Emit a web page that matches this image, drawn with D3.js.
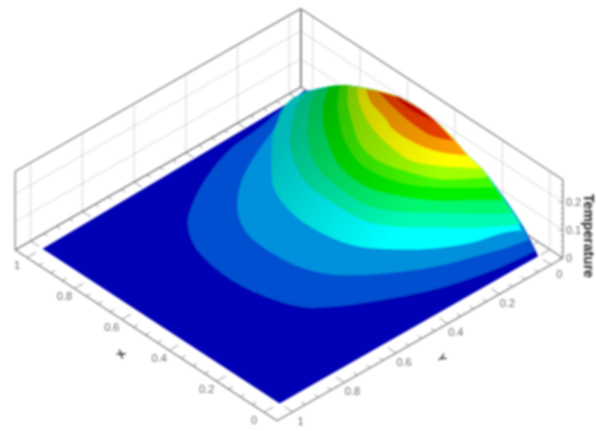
<!DOCTYPE html>
<html>
<head>
<meta charset="utf-8">
<script src="https://d3js.org/d3.v7.min.js"></script>
<style>
html, body { margin: 0; padding: 0; background: #fff; }
svg { display: block; }
text { font-family: "Liberation Sans", Arial, sans-serif; }
</style>
</head>
<body>
<script>
// temperature along the y = 0 edge (this edge is also the outline of the dome)
const edgeX = [0, 0.064, 0.233, 0.297, 0.353, 0.428, 0.497, 0.585, 0.682, 0.767, 0.827, 0.894, 0.966, 0.99, 1];
const edgeT = [0, 0.071, 0.179, 0.196, 0.22, 0.242, 0.25, 0.244, 0.215, 0.182, 0.154, 0.11, 0.057, 0.043, 0.022];

// contour levels and the iso-lines
const levels = [0.018, 0.036, 0.054, 0.072, 0.093, 0.12, 0.146, 0.164, 0.179, 0.193, 0.214, 0.24];
const contourX = [
  [0.007, 0.023, 0.063, 0.124, 0.217, 0.27, 0.366, 0.482, 0.605, 0.706, 0.786, 0.844, 0.906, 0.955, 0.971, 0.987, 1],
  [0.041, 0.06, 0.091, 0.122, 0.183, 0.296, 0.387, 0.507, 0.618, 0.704, 0.766, 0.816, 0.874, 0.925, 0.961, 0.988],
  [0.069, 0.097, 0.127, 0.191, 0.27, 0.331, 0.399, 0.528, 0.633, 0.715, 0.814, 0.881, 0.926, 0.964, 0.976],
  [0.074, 0.143, 0.221, 0.303, 0.386, 0.517, 0.635, 0.727, 0.817, 0.881, 0.93, 0.953],
  [0.107, 0.17, 0.252, 0.334, 0.423, 0.566, 0.653, 0.734, 0.82, 0.884, 0.918],
  [0.142, 0.21, 0.267, 0.362, 0.458, 0.564, 0.636, 0.702, 0.762, 0.831, 0.882],
  [0.183, 0.29, 0.386, 0.5, 0.57, 0.639, 0.704, 0.777, 0.836],
  [0.214, 0.301, 0.405, 0.488, 0.568, 0.661, 0.74, 0.802],
  [0.244, 0.332, 0.411, 0.475, 0.56, 0.634, 0.703, 0.765],
  [0.298, 0.366, 0.453, 0.545, 0.591, 0.665, 0.728],
  [0.357, 0.423, 0.507, 0.593, 0.678],
  [0.431, 0.495, 0.563, 0.602]
];
const contourY = [
  [0.007, 0.153, 0.31, 0.448, 0.606, 0.663, 0.703, 0.723, 0.716, 0.687, 0.634, 0.561, 0.45, 0.317, 0.197, 0.113, 0.055],
  [0, 0.082, 0.17, 0.257, 0.368, 0.507, 0.556, 0.572, 0.56, 0.516, 0.458, 0.394, 0.286, 0.171, 0.099, 0.047],
  [0, 0.047, 0.147, 0.255, 0.338, 0.386, 0.412, 0.425, 0.407, 0.37, 0.284, 0.218, 0.157, 0.095, 0.053],
  [0, 0.094, 0.177, 0.257, 0.309, 0.319, 0.313, 0.275, 0.212, 0.144, 0.08, 0.029],
  [0, 0.069, 0.149, 0.228, 0.275, 0.275, 0.257, 0.214, 0.142, 0.072, 0.014],
  [0, 0.071, 0.136, 0.203, 0.243, 0.238, 0.212, 0.174, 0.134, 0.071, 0],
  [0, 0.114, 0.181, 0.205, 0.191, 0.162, 0.121, 0.062, 0],
  [0, 0.104, 0.153, 0.173, 0.162, 0.11, 0.057, 0],
  [0, 0.077, 0.119, 0.119, 0.105, 0.081, 0.046, 0],
  [0, 0.045, 0.069, 0.068, 0.05, 0.033, 0],
  [0, 0.03, 0.03, 0.018, 0],
  [0, 0.012, 0.01, 0]
];
const bandColors = ["#0000b4", "#0050d0", "#0090dc", "#00ffff", "#00fab4", "#00f870", "#00f000",
  "#40fa00", "#a0ff00", "#ffff00", "#ffa000", "#f04000", "#d80000"];

const xTicks = [0, 0.2, 0.4, 0.6, 0.8, 1];
const yTicks = [0, 0.2, 0.4, 0.6, 0.8, 1];
const zTicks = [0, 0.1, 0.2];

const width = 596, height = 431;
const xBox = [-0.055, 1.05], yBox = [-0.045, 1.06], zBox = [0, 0.28];

// oblique view: every data axis has its own pixel scales, measured from the x=0,y=0 corner of the box
const originX = 563, originY = 258;
const xToPx = d3.scaleLinear().domain([0, 1]).range([-13.1, -250.2]);
const xToPy = d3.scaleLinear().domain([0, 1]).range([-8.55, -163.3]);
const yToPx = d3.scaleLinear().domain([0, 1]).range([-11.7, -270.3]);
const yToPy = d3.scaleLinear().domain([0, 1]).range([6.7, 154]);
const zToPy = d3.scaleLinear().domain([0, 0.2]).range([0, -56]);

function proj(x, y, z) {
  return [originX + xToPx(x) + yToPx(y), originY + xToPy(x) + yToPy(y) + zToPy(z)];
}

const svg = d3.select("body").append("svg").attr("width", width).attr("height", height);
const defs = svg.append("defs");
// the reference is a soft, low resolution picture
defs.append("filter").attr("id", "soft").attr("x", "-5%").attr("y", "-5%").attr("width", "110%").attr("height", "110%")
  .append("feGaussianBlur").attr("stdDeviation", 0.8);
const shade = defs.append("linearGradient").attr("id", "shade")
  .attr("gradientUnits", "userSpaceOnUse")
  .attr("x1", 300).attr("y1", 110).attr("x2", 420).attr("y2", 200);
shade.append("stop").attr("offset", 0).attr("stop-color", "#000").attr("stop-opacity", 0.28);
shade.append("stop").attr("offset", 1).attr("stop-color", "#000").attr("stop-opacity", 0);

const chart = svg.append("g").attr("filter", "url(#soft)");

function seg(g, a, b, stroke, w, dash) {
  g.append("line").attr("x1", a[0]).attr("y1", a[1]).attr("x2", b[0]).attr("y2", b[1])
    .attr("stroke", stroke).attr("stroke-width", w).attr("stroke-dasharray", dash || null);
}

//-----------walls and grid------------
const walls = chart.append("g");
const gridCol = "#a0a0a0";
yTicks.forEach(t => seg(walls, proj(xBox[1], t, 0), proj(xBox[1], t, zBox[1]), gridCol, 1, "1.5 2"));
xTicks.forEach(t => seg(walls, proj(t, yBox[0], 0), proj(t, yBox[0], zBox[1]), gridCol, 1, "1.5 2"));
zTicks.slice(1).forEach(t => {
  seg(walls, proj(xBox[1], yBox[0], t), proj(xBox[1], yBox[1], t), gridCol, 1, "1.5 2");
  seg(walls, proj(xBox[0], yBox[0], t), proj(xBox[1], yBox[0], t), gridCol, 1, "1.5 2");
});

const boxCol = "#7c7c7c";
seg(walls, proj(xBox[1], yBox[1], zBox[1]), proj(xBox[1], yBox[0], zBox[1]), boxCol, 1.2);
seg(walls, proj(xBox[1], yBox[0], zBox[1]), proj(xBox[0], yBox[0], zBox[1]), boxCol, 1.2);
seg(walls, proj(xBox[1], yBox[1], 0), proj(xBox[1], yBox[1], zBox[1]), boxCol, 1.2);
seg(walls, proj(xBox[1], yBox[0], 0), proj(xBox[1], yBox[0], zBox[1]), boxCol, 1.8);
seg(walls, proj(xBox[0], yBox[0], 0), proj(xBox[0], yBox[0], zBox[1]), boxCol, 1.2);
seg(walls, proj(xBox[1], yBox[1], 0), proj(xBox[1], yBox[0], 0), boxCol, 1.4);
seg(walls, proj(xBox[1], yBox[0], 0), proj(xBox[0], yBox[0], 0), boxCol, 1.2);
seg(walls, proj(xBox[1], yBox[1], 0), proj(xBox[0], yBox[1], 0), boxCol, 1.2);
seg(walls, proj(xBox[0], yBox[1], 0), proj(xBox[0], yBox[0], 0), boxCol, 1.2);

// ticks, four small ones between two labelled ones
const ticks = chart.append("g");
const tickCol = "#777";
d3.range(0, 21).forEach(i => {
  const t = i / 20, big = i % 4 === 0, l = big ? 0.035 : 0.016;
  seg(ticks, proj(t, yBox[1], 0), proj(t, yBox[1] - l, 0), tickCol, 0.8);
  seg(ticks, proj(t, yBox[0], 0), proj(t, yBox[0] + l, 0), tickCol, 0.8);
  seg(ticks, proj(xBox[0], t, 0), proj(xBox[0] + l, t, 0), tickCol, 0.8);
  seg(ticks, proj(xBox[1], t, 0), proj(xBox[1] - l, t, 0), tickCol, 0.8);
});
d3.range(0, 14).forEach(i => {
  const t = i * 0.02, p = proj(xBox[0], yBox[0], t);
  seg(ticks, p, [p[0] - (i % 5 === 0 ? 4 : 2), p[1]], tickCol, 0.8);
});

//-----------surface------------
const surface = chart.append("g");
const line = d3.line().curve(d3.curveCatmullRom.alpha(0.5));

function edgePart(from, to) {
  const pts = [];
  edgeX.forEach((x, i) => { if (x > from && x < to) pts.push(proj(x, 0, edgeT[i])); });
  return pts;
}

// whole plate first
const plate = [proj(1, 1, 0), proj(0, 1, 0), proj(0, 0, 0)];
surface.append("path")
  .attr("d", d3.line()(plate) + line(edgeX.map((x, i) => proj(x, 0, edgeT[i]))).replace("M", "L") + "Z")
  .attr("fill", bandColors[0]);

let shadedRing = null;
levels.forEach((lev, k) => {
  const cx = contourX[k], cy = contourY[k];
  const iso = cx.map((x, i) => proj(x, cy[i], lev));
  const back = edgePart(cx[0], cx[cx.length - 1]).reverse();
  // straight join at the ends of an iso-line, a curve there overshoots the outline
  const d = line(iso) + line([...back, iso[0]]).replace("M", "L") + "Z";
  if (k === 2) shadedRing = d;
  surface.append("path").attr("d", d).attr("fill", bandColors[k + 1]);
});

// the light falls from the lower right, the upper left side of the dome comes out darker
surface.append("path").attr("d", shadedRing).attr("fill", "url(#shade)");

//-----------text------------
const labels = chart.append("g").attr("font-size", 11).attr("fill", "#6a6a6a").attr("text-anchor", "middle");
xTicks.forEach(t => {
  const p = proj(t, yBox[1], 0);
  labels.append("text").attr("x", p[0] - 10).attr("y", p[1] + 8).attr("dy", "0.35em").text(t);
});
yTicks.forEach(t => {
  const p = proj(xBox[0], t, 0);
  labels.append("text").attr("x", p[0] + 8).attr("y", p[1] + 9).attr("dy", "0.35em").text(t);
});
zTicks.forEach(t => {
  const p = proj(xBox[0], yBox[0], t);
  labels.append("text").attr("x", p[0] + 3).attr("y", p[1]).attr("dy", "0.35em")
    .attr("text-anchor", "start").text(t);
});

chart.append("text").attr("transform", "translate(121,354) rotate(-55)")
  .attr("font-size", 11).attr("font-weight", "bold").attr("fill", "#333").attr("text-anchor", "middle").attr("dy", "0.35em").text("X");
chart.append("text").attr("transform", "translate(442,358) rotate(60)")
  .attr("font-size", 11).attr("font-weight", "bold").attr("fill", "#333").attr("text-anchor", "middle").attr("dy", "0.35em").text("Y");
chart.append("text").attr("transform", "translate(589,236) rotate(90)")
  .attr("font-size", 14).attr("font-weight", "bold").attr("fill", "#222").attr("text-anchor", "middle").attr("dy", "0.35em").text("Temperature");
</script>
</body>
</html>
